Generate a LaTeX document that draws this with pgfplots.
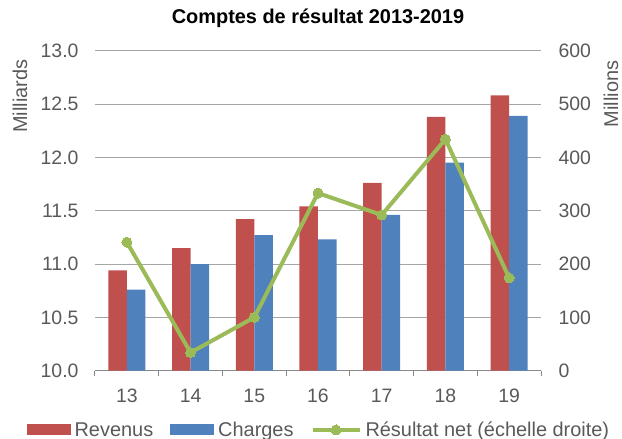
\documentclass[border=0pt]{standalone}
\usepackage{fontspec}
\setmainfont{Liberation Sans}
\usepackage{pgfplots}
\pgfplotsset{compat=1.18}
\definecolor{cRev}{HTML}{C0504D}
\definecolor{cCha}{HTML}{4F81BD}
\definecolor{cNet}{HTML}{9BBB59}
\definecolor{cTxt}{HTML}{595959}
\definecolor{cGrid}{HTML}{A6A6A6}
\definecolor{cAxis}{HTML}{898989}
\pgfplotsset{
  /pgf/number format/assume math mode=true,
  common/.style={
    at={(0,0)}, anchor=south west,
    scale only axis, width=446bp, height=320bp,
    xmin=12.5, xmax=19.5,
    major tick length=0pt,
    tick label style={font=\fontsize{19.5}{20}\selectfont, text=cTxt},
    label style={font=\fontsize{20}{20}\selectfont, text=cTxt},
  },
  netlegend/.style={legend image code/.code={%
    \draw[cNet, line width=4bp] (0bp,0bp) -- (47bp,0bp);
    \draw[cNet] plot[only marks, mark=*, mark size=5bp, mark options={solid, line width=0pt, fill=cNet}] coordinates {(23.5bp,0bp)};}},
  barlegend/.style={legend image code/.code={\fill[#1] (0bp,-5.5bp) rectangle (44bp,5.5bp);}},
}
\begin{document}
\begin{tikzpicture}
\useasboundingbox (-95bp,-68.3bp) rectangle (527bp,370.7bp);
\begin{axis}[
  common,
  ymin=10, ymax=13,
  xtick={13,...,19},
  minor xtick={12.5,13.5,...,19.5},
  minor tick length=5bp, tick align=outside,
  minor tick style={cAxis, line width=1bp},
  ytick={10,10.5,...,13},
  y tick label style={/pgf/number format/fixed, /pgf/number format/fixed zerofill, /pgf/number format/precision=1, xshift=-13bp},
  x tick label style={yshift=-15bp},
  axis x line*=bottom, axis y line*=left,
  y axis line style={draw=none},
  x axis line style={cAxis, line width=1.5bp},
  ymajorgrids, grid style={cGrid, line width=0.75bp},
  ybar=0pt, bar width=18.5bp,
  ylabel={Milliards},
  ylabel style={at={(axis description cs:-0.168,0.858)}, anchor=center},
  title={Comptes de résultat 2013-2019},
  title style={font=\bfseries\fontsize{20}{20}\selectfont, at={(axis description cs:0.5,1.083)}, anchor=center},
  legend style={at={(axis description cs:0.502,-0.185)}, anchor=center, legend columns=3, draw=none, fill=none,
    font=\fontsize{20}{20}\selectfont, text=cTxt, inner sep=0pt,
    /tikz/every odd column/.append style={column sep=2bp},
    /tikz/every even column/.append style={column sep=15bp}},
  legend cell align=left,
]
\addplot[fill=cRev, draw=none, barlegend=cRev]
  coordinates {(13,10.94) (14,11.15) (15,11.42) (16,11.54) (17,11.76) (18,12.38) (19,12.58)};
\addlegendentry{Revenus}
\addplot[fill=cCha, draw=none, barlegend=cCha]
  coordinates {(13,10.76) (14,11.00) (15,11.27) (16,11.23) (17,11.46) (18,11.95) (19,12.39)};
\addlegendentry{Charges}
\addlegendimage{cNet, line width=4bp, netlegend}
\addlegendentry{Résultat net (échelle droite)}
\end{axis}
\begin{axis}[
  common,
  ymin=0, ymax=600,
  ytick={0,100,...,600},
  axis x line=none, axis y line*=right,
  y axis line style={draw=none},
  y tick label style={xshift=14bp},
  ylabel={Millions},
  ylabel style={at={(axis description cs:1.157,0.865)}, anchor=center},
]
\addplot[cNet, line width=4bp, mark=*, mark size=5bp, mark options={solid, line width=0pt, fill=cNet}]
  coordinates {(13,241) (14,34) (15,100) (16,333) (17,292) (18,434) (19,174)};
\end{axis}
\end{tikzpicture}
\end{document}
